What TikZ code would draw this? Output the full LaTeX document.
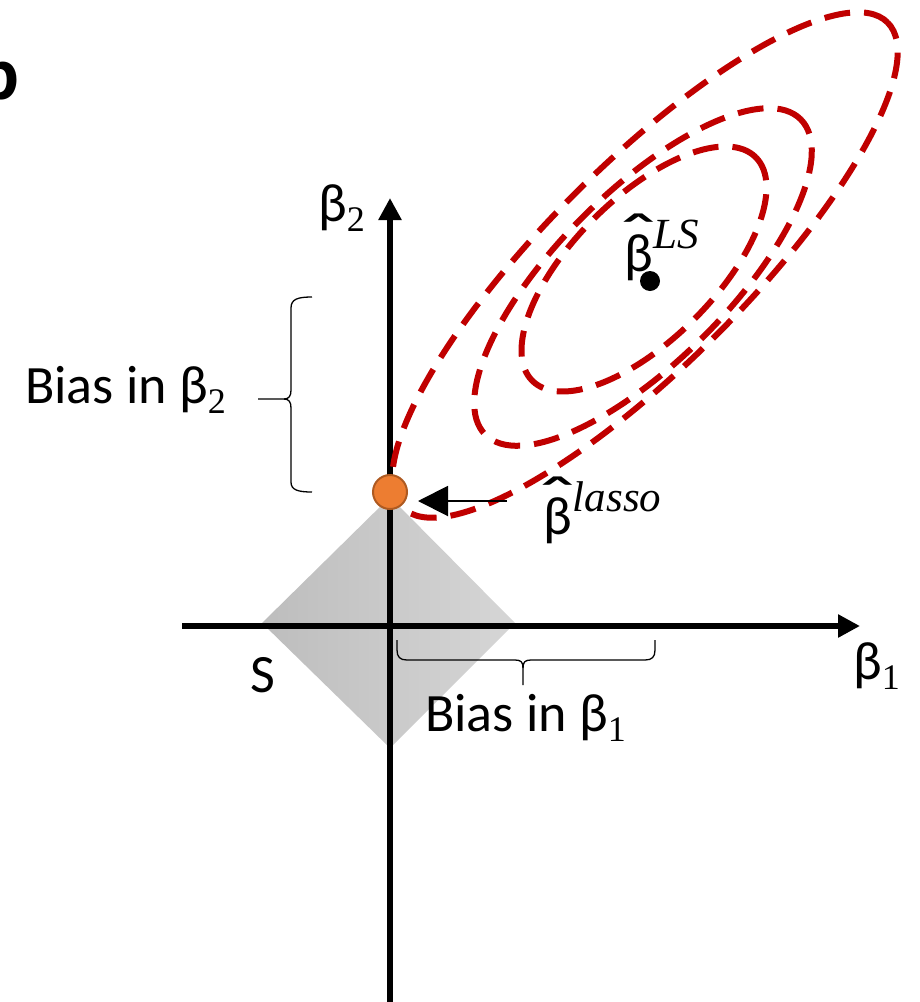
\documentclass[tikz,border=0pt]{standalone}
\usepackage{graphicx}
\usepackage{fontspec}
\setmainfont{Carlito}
\newfontfamily\scriptserif{Liberation Serif}
\usetikzlibrary{arrows.meta}
\definecolor{ellred}{HTML}{C00000}
\definecolor{dotorange}{HTML}{ED7D31}
\definecolor{dotedge}{HTML}{AE5A21}
\definecolor{dmdark}{HTML}{BDBDBD}
\definecolor{dmlight}{HTML}{D6D6D6}
\newcommand\mysub[1]{\raisebox{-10pt}{\fontsize{36}{36}\selectfont\scriptserif #1}}
\newcommand\mysup[1]{\kern1pt\raisebox{23pt}{\fontsize{43}{43}\selectfont\scriptserif\itshape #1}}
\newsavebox\betabox
\newcommand\bhat{\sbox\betabox{β}\makebox[0pt][l]{\makebox[\wd\betabox][c]{\raisebox{0.22em}{\scalebox{1.9}[1.25]{ˆ}}}}\usebox\betabox}
\begin{document}
\begin{tikzpicture}[x=1pt,y=-1pt,
  axisline/.style={line width=5.5pt, -{Triangle[length=22pt,width=22pt]}},
  contour/.style={draw=ellred, line width=6pt, dash pattern=on 26pt off 14pt},
  bracepath/.style={line width=1.3pt},
  lbl/.style={inner sep=0pt, font=\fontsize{54}{60}\selectfont},
]
\useasboundingbox (0,0) rectangle (919,1002);

% constraint region
\shade[left color=dmdark, right color=dmlight] (390,497) -- (515,623) -- (390,748) -- (262,623) -- cycle;

% axes
\coordinate (ybot) at (390,1010);
\coordinate (ytop) at (390,198);
\coordinate (xleft) at (182,626);
\coordinate (xright) at (860,626);
\draw[axisline] (ybot) -- (ytop);
\draw[axisline] (xleft) -- (xright);

% contours
\draw[contour, rotate around={45:(645,265)}] (645,265) ellipse [x radius=343pt, y radius=100pt];
\draw[contour, rotate around={45:(643,277)}] (643,277) ellipse [x radius=223pt, y radius=85pt];
\draw[contour, rotate around={45:(644,269)}] (644,269) ellipse [x radius=158pt, y radius=71pt];

% braces
\draw[bracepath] (312,297) .. controls (298,297) and (291,299) .. (291,308) -- (291,390)
  .. controls (291,396) and (289,399) .. (284,399) -- (258,399);
\draw[bracepath] (284,399) .. controls (289,399) and (291,402) .. (291,408) -- (291,482)
  .. controls (291,490) and (298,492) .. (312,492);
\draw[bracepath] (397,640) -- (397,650) .. controls (397,657) and (400,660) .. (407,660) -- (515,660)
  .. controls (521,660) and (523,662) .. (523,668) -- (523,685);
\draw[bracepath] (523,668) .. controls (523,662) and (525,660) .. (531,660) -- (645,660)
  .. controls (652,660) and (655,657) .. (655,650) -- (655,640);

% points
\node[circle, fill=black, minimum size=20pt, inner sep=0pt] (ls) at (650,281) {};
\node[circle, fill=dotorange, draw=dotedge, line width=2pt, minimum size=34pt, inner sep=0pt] (lasso) at (390,492) {};

% arrow to lasso estimate
\coordinate (arrstart) at (507,501);
\coordinate (arrtip) at (418,501);
\draw[line width=2pt, -{Triangle[length=30pt,width=30pt]}] (arrstart) -- (arrtip);

% labels
\node[lbl, anchor=base west] (b2) at (318,221) {β\mysub{2}};
\node[lbl, anchor=base west] (b1) at (853,679) {β\mysub{1}};
\node[lbl, anchor=base west] (bias2) at (25,403) {Bias in β\mysub{2}};
\node[lbl, anchor=base west] (bias1) at (425,731) {Bias in β\mysub{1}};
\node[lbl, anchor=base west] (slbl) at (250,692) {S};
\node[lbl, anchor=base west] (lslbl) at (624,271) {\bhat\mysup{LS}};
\node[lbl, anchor=base west] (lassolbl) at (543,534) {\bhat\mysup{lasso}};
\node[anchor=base east, inner sep=0pt, font=\fontsize{76}{80}\selectfont\bfseries] (panel) at (19,99) {b};
\end{tikzpicture}
\end{document}
